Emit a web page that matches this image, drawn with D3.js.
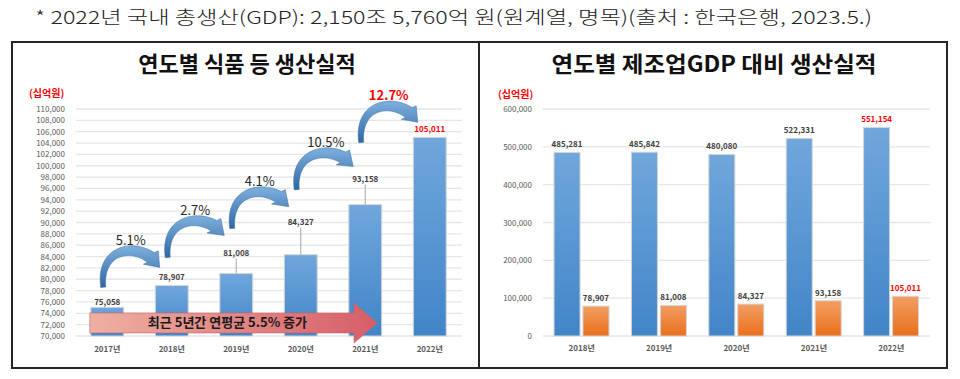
<!DOCTYPE html>
<html>
<head>
<meta charset="utf-8">
<script src="https://cdn.jsdelivr.net/npm/d3@7"></script>
<style>
  body { margin: 0; background: #fff; }
  svg { display: block; font-family: 'Noto Sans CJK KR', 'Noto Sans', sans-serif; }
</style>
</head>
<body>
<svg width="960" height="379"></svg>
<script>
// left chart data
const years = ['2017년', '2018년', '2019년', '2020년', '2021년', '2022년']
const foodOutput = [75058, 78907, 81008, 84327, 93158, 105011]
const growthLabels = ['5.1%', '2.7%', '4.1%', '10.5%', '12.7%']
const leftTicks = d3.range(70000, 110001, 2000)

// right chart data
const gdpYears = ['2018년', '2019년', '2020년', '2021년', '2022년']
const mfgGdp = [485281, 485842, 480080, 522331, 551154]
const foodVsGdp = [78907, 81008, 84327, 93158, 105011]
const rightTicks = [0, 100000, 200000, 300000, 400000, 500000, 600000]

const note = '* 2022년 국내 총생산(GDP): 2,150조 5,760억 원(원계열, 명목)(출처 : 한국은행, 2023.5.)'
const leftTitle = '연도별 식품 등 생산실적'
const rightTitle = '연도별 제조업GDP 대비 생산실적'
const unitLabel = '(십억원)'
const avgLabel = '최근 5년간 연평균 5.5% 증가'

// hand placed annotations (px above the bar tops)
const labelLift = [5, 8, 21, 33, 26, 8]
const arrowLift = [[20, 18], [28, 38], [45, 48], [65, 38], [62, 15]]

const svg = d3.select('svg')
const fmt = d3.format(',')

const defs = svg.append('defs')
function grad(id, c0, c1, horiz) {
    const g = defs.append('linearGradient').attr('id', id)
        .attr('x1', 0).attr('y1', 0).attr('x2', horiz ? 1 : 0).attr('y2', horiz ? 0 : 1)
    g.append('stop').attr('offset', 0).attr('stop-color', c0)
    g.append('stop').attr('offset', 1).attr('stop-color', c1)
}
grad('blue', '#70a7dc', '#4185c8')
grad('orange', '#f39e62', '#e96f1c')
grad('arrow', '#7eb0de', '#2f67a3')
grad('red', '#eeb0a2', '#d65e68', true)

// header note
svg.append('text')
    .attr('x', 35).attr('y', 24)
    .attr('textLength', 837).attr('lengthAdjust', 'spacingAndGlyphs')
    .style('font-size', '18px').style('font-weight', 300).style('fill', '#222')
    .text(note)

// frame
svg.append('rect')
    .attr('x', 12).attr('y', 42).attr('width', 935).attr('height', 326)
    .style('fill', 'none').style('stroke', '#262626').style('stroke-width', 2)
svg.append('line')
    .attr('x1', 479).attr('x2', 479).attr('y1', 42).attr('y2', 368)
    .style('stroke', '#262626').style('stroke-width', 2)

// ---------- left chart ----------
const xL = d3.scaleBand().domain(years).range([75, 462]).paddingInner(0.49).paddingOuter(0.245)
const yL = d3.scaleLinear().domain([70000, 110000]).range([336, 109])
const left = svg.append('g')

left.append('text')
    .attr('x', 247).attr('y', 72).attr('text-anchor', 'middle')
    .style('font-size', '22px').style('font-weight', 700).style('fill', '#111')
    .text(leftTitle)
left.append('text')
    .attr('x', 29).attr('y', 97)
    .style('font-size', '10px').style('font-weight', 700).style('fill', '#f00')
    .text(unitLabel)

left.selectAll('line.grid').data(leftTicks).enter().append('line')
    .attr('x1', 76).attr('x2', 462)
    .attr('y1', d => yL(d)).attr('y2', d => yL(d))
    .style('stroke', '#e6e6e6').style('stroke-width', 1.3)
left.selectAll('text.tick').data(leftTicks).enter().append('text')
    .attr('x', 65).attr('y', d => yL(d) + 3).attr('text-anchor', 'end')
    .style('font-size', '8px').style('fill', '#595959')
    .text(fmt)

left.selectAll('rect.bar').data(foodOutput).enter().append('rect')
    .attr('x', (d, i) => xL(years[i]))
    .attr('width', xL.bandwidth())
    .attr('y', d => yL(d))
    .attr('height', d => yL(70000) - yL(d))
    .style('fill', 'url(#blue)').style('stroke', '#d6d6d6').style('stroke-width', 1)

// leader lines for lifted labels
foodOutput.forEach(function (d, i) {
    if (labelLift[i] > 12) {
        const cx = xL(years[i]) + xL.bandwidth() / 2
        left.append('line')
            .attr('x1', cx).attr('x2', cx)
            .attr('y1', yL(d)).attr('y2', yL(d) - labelLift[i] + 6)
            .style('stroke', '#a6a6a6').style('stroke-width', 1)
    }
})
left.selectAll('text.val').data(foodOutput).enter().append('text')
    .attr('x', (d, i) => xL(years[i]) + xL.bandwidth() / 2)
    .attr('y', (d, i) => yL(d) - labelLift[i] + 3)
    .attr('text-anchor', 'middle')
    .style('font-size', '8px').style('font-weight', 700)
    .style('fill', (d, i) => i == foodOutput.length - 1 ? '#f00' : '#404040')
    .text(fmt)

left.selectAll('text.year').data(years).enter().append('text')
    .attr('x', d => xL(d) + xL.bandwidth() / 2).attr('y', 352)
    .attr('text-anchor', 'middle')
    .style('font-size', '8px').style('font-weight', 700).style('fill', '#595959')
    .text(d => d)

// curved growth arrows
function curvedArrow(t, h) {
    const peakY = t[1] - 36
    const cy = (peakY - 0.125 * (t[1] + h[1])) / 0.75
    const c1 = [t[0] - 5, cy], c2 = [h[0] - 14, cy]
    const bez = s => [0, 1].map(k => (1 - s) ** 3 * t[k] + 3 * (1 - s) ** 2 * s * c1[k]
        + 3 * (1 - s) * s * s * c2[k] + s ** 3 * h[k])
    const pts = d3.range(0, 1.0001, 0.02).map(bez)
    const body = pts.filter(p => Math.hypot(p[0] - h[0], p[1] - h[1]) > 13)
    const n = body.length
    const lside = [], rside = []
    body.forEach(function (p, i) {
        const a = body[Math.max(0, i - 1)], b = body[Math.min(n - 1, i + 1)]
        const len = Math.hypot(b[0] - a[0], b[1] - a[1])
        const nx = -(b[1] - a[1]) / len, ny = (b[0] - a[0]) / len
        const w = (5 + 7 * i / (n - 1)) / 2
        lside.push([p[0] + nx * w, p[1] + ny * w])
        rside.push([p[0] - nx * w, p[1] - ny * w])
    })
    const base = body[n - 1]
    const dl = Math.hypot(h[0] - base[0], h[1] - base[1])
    const hx = -(h[1] - base[1]) / dl, hy = (h[0] - base[0]) / dl
    const poly = lside.concat([[base[0] + hx * 10, base[1] + hy * 10], h,
        [base[0] - hx * 10, base[1] - hy * 10]], rside.reverse())
    const top = pts.reduce((m, p) => p[1] < m[1] ? p : m)
    return { d: d3.line()(poly) + 'Z', top: top }
}

growthLabels.forEach(function (g, i) {
    const tail = [xL(years[i]) + xL.bandwidth() / 2 - 4, yL(foodOutput[i]) - arrowLift[i][0]]
    const head = [xL(years[i + 1]) + xL.bandwidth() / 2 - 12, yL(foodOutput[i + 1]) - arrowLift[i][1]]
    const arr = curvedArrow(tail, head)
    left.append('path').attr('d', arr.d)
        .style('fill', 'url(#arrow)').style('stroke', '#3d6f9f').style('stroke-width', 0.5)
    const last = i == growthLabels.length - 1
    left.append('text')
        .attr('x', arr.top[0]).attr('y', arr.top[1] - 6)
        .attr('text-anchor', 'middle')
        .style('font-size', '13px').style('font-weight', last ? 700 : 400)
        .style('fill', last ? '#f00' : '#262626')
        .text(g)
})

// average growth block arrow
const ax0 = xL(years[0]) - 1
const ax1 = xL(years[4]) + xL.bandwidth() * 0.86
const am = yL(72300)
const hx0 = ax1 - 23
left.append('path')
    .attr('d', d3.line()([[ax0, am - 10], [hx0, am - 10], [hx0, am - 20], [ax1, am],
        [hx0, am + 20], [hx0, am + 10], [ax0, am + 10]]) + 'Z')
    .style('fill', 'url(#red)').style('stroke', '#c9626a').style('stroke-width', 0.6)
left.append('text')
    .attr('x', (ax0 + ax1) / 2 - 6).attr('y', am + 4.5)
    .attr('text-anchor', 'middle')
    .style('font-size', '13px').style('font-weight', 700).style('fill', '#1a1a1a')
    .text(avgLabel)

// ---------- right chart ----------
const xR = d3.scaleBand().domain(gdpYears).range([543, 930])
const xSub = d3.scaleBand().domain(['mfg', 'food']).range([11, 66]).paddingInner(0.1)
const yR = d3.scaleLinear().domain([0, 600000]).range([336, 109])
const right = svg.append('g')

right.append('text')
    .attr('x', 714).attr('y', 72).attr('text-anchor', 'middle')
    .attr('textLength', 325).attr('lengthAdjust', 'spacingAndGlyphs')
    .style('font-size', '22px').style('font-weight', 700).style('fill', '#111')
    .text(rightTitle)
right.append('text')
    .attr('x', 498).attr('y', 98)
    .style('font-size', '10px').style('font-weight', 700).style('fill', '#f00')
    .text(unitLabel)

right.selectAll('line.grid').data(rightTicks).enter().append('line')
    .attr('x1', 543).attr('x2', 930)
    .attr('y1', d => yR(d)).attr('y2', d => yR(d))
    .style('stroke', '#e6e6e6').style('stroke-width', 1.3)
right.selectAll('text.tick').data(rightTicks).enter().append('text')
    .attr('x', 532).attr('y', d => yR(d) + 3).attr('text-anchor', 'end')
    .style('font-size', '8px').style('fill', '#595959')
    .text(fmt)

const series = [['mfg', mfgGdp, 'url(#blue)'], ['food', foodVsGdp, 'url(#orange)']]
series.forEach(function (s) {
    const key = s[0], vals = s[1]
    right.selectAll('rect.' + key).data(vals).enter().append('rect')
        .attr('x', (d, i) => xR(gdpYears[i]) + xSub(key))
        .attr('width', xSub.bandwidth())
        .attr('y', d => yR(d))
        .attr('height', d => yR(0) - yR(d))
        .style('fill', s[2]).style('stroke', '#d6d6d6').style('stroke-width', 1)
    right.selectAll('text.' + key).data(vals).enter().append('text')
        .attr('x', (d, i) => xR(gdpYears[i]) + xSub(key) + xSub.bandwidth() / 2)
        .attr('y', d => yR(d) - 5)
        .attr('text-anchor', 'middle')
        .style('font-size', '8px').style('font-weight', 700)
        .style('fill', (d, i) => i == vals.length - 1 ? '#f00' : '#404040')
        .text(fmt)
})

right.selectAll('text.year').data(gdpYears).enter().append('text')
    .attr('x', d => xR(d) + xR.bandwidth() / 2).attr('y', 351)
    .attr('text-anchor', 'middle')
    .style('font-size', '8px').style('font-weight', 700).style('fill', '#595959')
    .text(d => d)
</script>
</body>
</html>
